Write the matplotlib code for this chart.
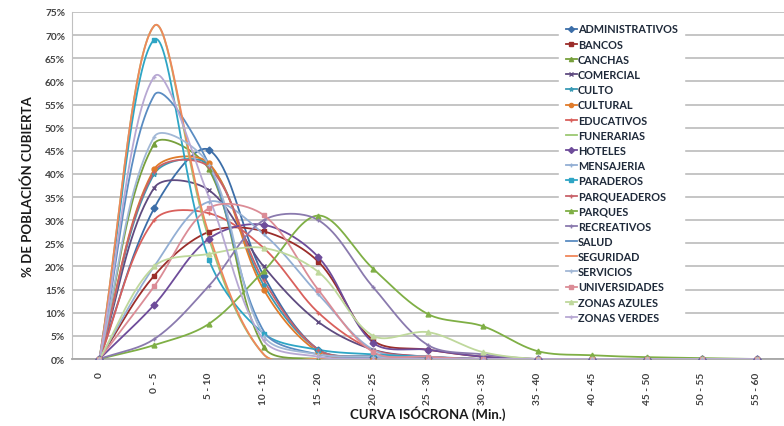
import numpy as np
import matplotlib
matplotlib.use("Agg")
import matplotlib.pyplot as plt
from matplotlib.ticker import PercentFormatter, MultipleLocator
from matplotlib.lines import Line2D

plt.rcParams['font.family'] = ['Lato', 'DejaVu Sans']

categories = ["0", "0 - 5", "5 - 10", "10 - 15", "15 - 20", "20 - 25", "25 - 30",
              "30 - 35", "35 - 40", "40 - 45", "45 - 50", "50 - 55", "55 - 60"]

administrativos = [0, 32.6, 45.2, 18.0, 2.0, 0.5, 0.2, 0, 0, 0, 0, 0, 0]
bancos          = [0, 18.0, 27.5, 27.6, 21.0, 4.0, 2.0, 0.5, 0, 0, 0, 0, 0]
canchas         = [0, 46.5, 41.0, 2.6, 0, 0, 0, 0, 0, 0, 0, 0, 0]
comercial       = [0, 37.0, 36.5, 20.0, 8.0, 2.0, 0.5, 0, 0, 0, 0, 0, 0]
culto           = [0, 40.0, 42.0, 16.0, 2.0, 0.5, 0, 0, 0, 0, 0, 0, 0]
cultural        = [0, 41.0, 42.3, 15.0, 1.5, 0, 0, 0, 0, 0, 0, 0, 0]
educativos      = [0, 30.0, 31.5, 24.0, 10.0, 2.0, 0.5, 0, 0, 0, 0, 0, 0]
funerarias      = [0, 72.0, 26.0, 1.0, 0, 0, 0, 0, 0, 0, 0, 0, 0]
hoteles         = [0, 11.7, 26.0, 29.0, 22.0, 3.5, 2.0, 0.5, 0, 0, 0, 0, 0]
mensajeria      = [0, 20.0, 34.0, 27.0, 14.0, 2.0, 0.5, 0, 0, 0, 0, 0, 0]
paraderos       = [0, 69.0, 21.5, 5.5, 2.0, 1.0, 0.5, 0, 0, 0, 0, 0, 0]
parqueaderos    = [0, 40.5, 41.5, 17.0, 2.0, 0.5, 0, 0, 0, 0, 0, 0, 0]
parques         = [0, 3.0, 7.6, 19.0, 31.0, 19.5, 9.7, 7.1, 1.7, 0.8, 0.4, 0.2, 0]
recreativos     = [0, 4.3, 15.8, 30.0, 30.0, 15.5, 3.0, 1.0, 0, 0, 0, 0, 0]
salud           = [0, 57.0, 42.0, 6.0, 1.0, 0.5, 0, 0, 0, 0, 0, 0, 0]
seguridad       = [0, 72.0, 27.0, 1.0, 0, 0, 0, 0, 0, 0, 0, 0, 0]
servicios       = [0, 48.0, 42.0, 5.0, 1.0, 0.5, 0, 0, 0, 0, 0, 0, 0]
universidades   = [0, 15.7, 32.6, 31.1, 14.9, 1.5, 0.5, 0, 0, 0, 0, 0, 0]
zonas_azules    = [0, 20.0, 22.7, 24.0, 18.8, 5.0, 5.8, 1.5, 0, 0, 0, 0, 0]
zonas_verdes    = [0, 61.0, 35.0, 4.0, 0.5, 0, 0, 0, 0, 0, 0, 0, 0]

series_names = ["ADMINISTRATIVOS", "BANCOS", "CANCHAS", "COMERCIAL", "CULTO", "CULTURAL",
                "EDUCATIVOS", "FUNERARIAS", "HOTELES", "MENSAJERIA", "PARADEROS",
                "PARQUEADEROS", "PARQUES", "RECREATIVOS", "SALUD", "SEGURIDAD",
                "SERVICIOS", "UNIVERSIDADES", "ZONAS AZULES", "ZONAS VERDES"]
series_values = [administrativos, bancos, canchas, comercial, culto, cultural, educativos,
                 funerarias, hoteles, mensajeria, paraderos, parqueaderos, parques,
                 recreativos, salud, seguridad, servicios, universidades, zonas_azules,
                 zonas_verdes]
colors = ["#3C6EA8", "#9B2D2A", "#77A03C", "#5F4B80", "#3A9AB5", "#E07B2A", "#D9605C",
          "#9CC873", "#6E4C9A", "#93AFD4", "#2EA5C5", "#C8626A", "#7FAF45", "#8A7AAE",
          "#5A8CC2", "#F0875A", "#A2B8D6", "#DB8C96", "#BFD89C", "#B7A8D3"]
markers = ["D", "s", "^", "x", "*", "o", "+", "", "D", "+", "s", "+", "^", "+",
           "", "", "+", "s", "^", "+"]

# approximate on-screen size of one category step and of one percent
X_UNIT, Y_UNIT = 54.8, 4.627


def smooth(xs, ys, n=40):
    """Bezier smoothing through every point, tangents split by chord length
    (measured in display space) so steep segments do not overshoot."""
    pts = np.column_stack([np.asarray(xs, float) * X_UNIT,
                           np.asarray(ys, float) * Y_UNIT])
    m = len(pts)
    out_ctrl = np.zeros_like(pts)
    in_ctrl = np.zeros_like(pts)
    for i in range(m):
        prev = pts[max(i - 1, 0)]
        nxt = pts[min(i + 1, m - 1)]
        tang = nxt - prev
        d_prev = np.hypot(*(pts[i] - prev))
        d_next = np.hypot(*(nxt - pts[i]))
        tot = d_prev + d_next
        if tot == 0:
            out_ctrl[i] = in_ctrl[i] = pts[i]
            continue
        out_ctrl[i] = pts[i] + tang * (d_next / tot) / 3.0
        in_ctrl[i] = pts[i] - tang * (d_prev / tot) / 3.0
    t = np.linspace(0, 1, n)[:, None]
    segs = []
    for i in range(m - 1):
        p1, c1, c2, p2 = pts[i], out_ctrl[i], in_ctrl[i + 1], pts[i + 1]
        seg = ((1 - t) ** 3) * p1 + 3 * ((1 - t) ** 2) * t * c1 \
            + 3 * (1 - t) * t ** 2 * c2 + t ** 3 * p2
        segs.append(seg if i == 0 else seg[1:])
    seg = np.vstack(segs)
    return seg[:, 0] / X_UNIT, seg[:, 1] / Y_UNIT


fig = plt.figure(figsize=(7.84, 4.27), dpi=100)
ax = fig.add_axes([72 / 784, 1 - 360 / 427, 1 - 72 / 784, 347 / 427])

x = np.arange(len(categories))
handles = []
for name, vals, col, mk in zip(series_names, series_values, colors, markers):
    sx, sy = smooth(x, vals)
    ax.plot(sx, sy, color=col, lw=1.3, zorder=3)
    if mk:
        ax.plot(x, vals, ls="none", marker=mk, color=col, ms=3.5, mew=1.0, zorder=4)
    handles.append(Line2D([0], [0], color=col, lw=1.3, marker=mk if mk else None,
                          ms=3.0, mew=1.0))

ax.set_xlim(-0.5, len(categories) - 0.5)
ax.set_ylim(0, 75)
ax.yaxis.set_major_locator(MultipleLocator(5))
ax.yaxis.set_major_formatter(PercentFormatter(decimals=0))
ax.set_xticks(x)
ax.set_xticklabels(categories, rotation=90, fontsize=7.3, color="#404040", fontweight="bold")
for lab in ax.get_yticklabels():
    lab.set_fontsize(7.3)
    lab.set_color("#404040")
    lab.set_fontweight("bold")
ax.tick_params(axis="both", length=0, pad=5)
ax.tick_params(axis="x", pad=9)

ax.grid(axis="y", color="#C0C0C0", lw=1.3, zorder=0)
ax.set_axisbelow(True)
for s in ["top", "right"]:
    ax.spines[s].set_visible(False)
ax.spines["left"].set_color("#C0C0C0")
ax.spines["bottom"].set_color("#A6A6A6")
ax.spines["bottom"].set_linewidth(1.3)

ax.set_ylabel("% DE POBLACIÓN CUBIERTA", fontsize=9.5, fontweight="bold", color="#1A1A1A",
              labelpad=8)
ax.set_xlabel("CURVA ISÓCRONA (Min.)", fontsize=9.5, fontweight="bold", color="#1A1A1A",
              labelpad=1)

leg = ax.legend(handles, series_names, loc="upper left",
                bbox_to_anchor=((559 - 72) / 712, 1 - 5 / 347),
                prop={"size": 7.8, "weight": "bold"},
                frameon=True, fancybox=False, handlelength=1.05,
                handletextpad=0.1, labelspacing=0.385, borderpad=0.6, borderaxespad=0)
leg.get_frame().set_facecolor("white")
leg.get_frame().set_edgecolor("white")
leg.get_frame().set_alpha(1)
leg.set_zorder(5)
for t in leg.get_texts():
    t.set_color("#1F2A3A")

fig.savefig("out.png", dpi=100)
